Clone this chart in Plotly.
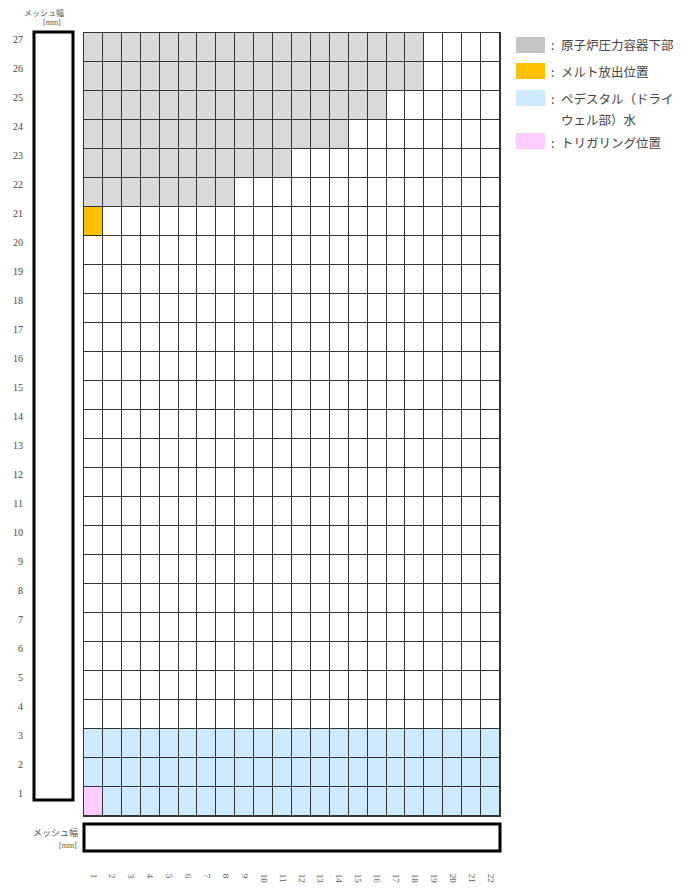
import plotly.graph_objects as go

# ---- data ----
n_cols = 22
n_rows = 27
col_labels = [str(i) for i in range(1, n_cols + 1)]
row_labels = [str(i) for i in range(1, n_rows + 1)]
# rows of reactor pressure vessel lower head and their extent (columns 1..N)
rpv_rows = [22, 23, 24, 25, 26, 27]
rpv_extent = [8, 11, 14, 16, 18, 18]
melt_cell = (1, 21)          # (column, row)
water_rows = [1, 2, 3]
trigger_cell = (1, 1)
legend_labels = ["原子炉圧力容器下部", "メルト放出位置", "ペデスタル（ドライ", "トリガリング位置"]
legend_label_cont = "ウェル部）水"

# category codes: 0 empty, 1 RPV, 2 melt, 3 water, 4 trigger
z = [[0] * n_cols for _ in range(n_rows)]
for r, ext in zip(rpv_rows, rpv_extent):
    for c in range(1, ext + 1):
        z[r - 1][c - 1] = 1
z[melt_cell[1] - 1][melt_cell[0] - 1] = 2
for r in water_rows:
    for c in range(1, n_cols + 1):
        z[r - 1][c - 1] = 3
z[trigger_cell[1] - 1][trigger_cell[0] - 1] = 4

WHITE = "#ffffff"
GREY = "#d9d9d9"
ORANGE = "#ffc000"
BLUE = "#cdeafe"
PINK = "#ffccff"
colorscale = [[0, WHITE], [0.125, WHITE], [0.125, GREY], [0.375, GREY],
              [0.375, ORANGE], [0.625, ORANGE], [0.625, BLUE], [0.875, BLUE],
              [0.875, PINK], [1, PINK]]

OFF = 8  # page body margin
W, H = 691 - OFF, 891 - OFF
def px(x):
    return (x - OFF) / W
def py(y):
    return 1 - (y - OFF) / H

fig = go.Figure(go.Heatmap(
    x=list(range(1, n_cols + 1)), y=list(range(1, n_rows + 1)), z=z,
    zmin=0, zmax=4, colorscale=colorscale, showscale=False,
    xgap=1, ygap=1, hoverinfo="skip"))

SERIF = "Liberation Serif"
CJK = "Noto Sans CJK JP"

fig.update_layout(
    width=W, height=H, margin=dict(l=0, r=0, t=0, b=0),
    paper_bgcolor="white", plot_bgcolor="#333333", showlegend=False,
    xaxis=dict(domain=[px(84), px(500)], range=[0.5, n_cols + 0.5],
               tickvals=list(range(1, n_cols + 1)), ticktext=col_labels,
               tickangle=90, ticks="", showgrid=False, zeroline=False,
               showline=True, linecolor="#333333", linewidth=1, mirror=True,
               ticklabelstandoff=55, tickfont=dict(family=SERIF, size=9, color="#555555")),
    yaxis=dict(domain=[py(816), py(33)], range=[0.5, n_rows + 0.5],
               tickvals=list(range(1, n_rows + 1)), ticktext=row_labels,
               ticks="", showgrid=False, zeroline=False,
               showline=True, linecolor="#333333", linewidth=1, mirror=True,
               ticklabelstandoff=58, ticklabelshift=-8,
               tickfont=dict(family=SERIF, size=10, color="#444444")),
)

shapes = []
# mesh width boxes
shapes.append(dict(type="rect", xref="paper", yref="paper",
                   x0=px(34), x1=px(73), y0=py(800), y1=py(32),
                   line=dict(color="black", width=3), fillcolor="white"))
shapes.append(dict(type="rect", xref="paper", yref="paper",
                   x0=px(84), x1=px(500), y0=py(851), y1=py(824),
                   line=dict(color="black", width=3), fillcolor="white"))
# legend swatches
sw_colors = ["#c4c4c4", ORANGE, BLUE, PINK]
sw_tops = [37, 63, 90, 133]
for col, t in zip(sw_colors, sw_tops):
    shapes.append(dict(type="rect", xref="paper", yref="paper",
                       x0=px(516), x1=px(545), y0=py(t + 16), y1=py(t),
                       line=dict(width=0), fillcolor=col))
fig.update_layout(shapes=shapes)

ann = []
text_y = [45, 71, 98, 142]
LFONT = dict(family=CJK, size=12.5, color="#444444")
for lab, y in zip(legend_labels, text_y):
    ann.append(dict(text=":", xref="paper", yref="paper", x=px(549), y=py(y),
                    xanchor="left", yanchor="middle", showarrow=False, font=LFONT))
    ann.append(dict(text=lab, xref="paper", yref="paper", x=px(559), y=py(y),
                    xanchor="left", yanchor="middle", showarrow=False, font=LFONT))
ann.append(dict(text=legend_label_cont, xref="paper", yref="paper", x=px(559), y=py(119),
                xanchor="left", yanchor="middle", showarrow=False, font=LFONT))
# mesh width captions
ann.append(dict(text="メッシュ幅", xref="paper", yref="paper", x=px(44), y=py(13),
                xanchor="center", yanchor="middle",
                showarrow=False, font=dict(family=CJK, size=8, color="#555555")))
ann.append(dict(text="[mm]", xref="paper", yref="paper", x=px(52), y=py(23),
                xanchor="center", yanchor="middle",
                showarrow=False, font=dict(family=SERIF, size=8, color="#555555")))
ann.append(dict(text="メッシュ幅", xref="paper", yref="paper", x=px(80), y=py(832),
                xanchor="right", yanchor="middle",
                showarrow=False, font=dict(family=CJK, size=9, color="#555555")))
ann.append(dict(text="[mm]", xref="paper", yref="paper", x=px(79), y=py(845),
                xanchor="right", yanchor="middle",
                showarrow=False, font=dict(family=SERIF, size=8, color="#555555")))
fig.update_layout(annotations=ann)

fig.write_html("out.html")
